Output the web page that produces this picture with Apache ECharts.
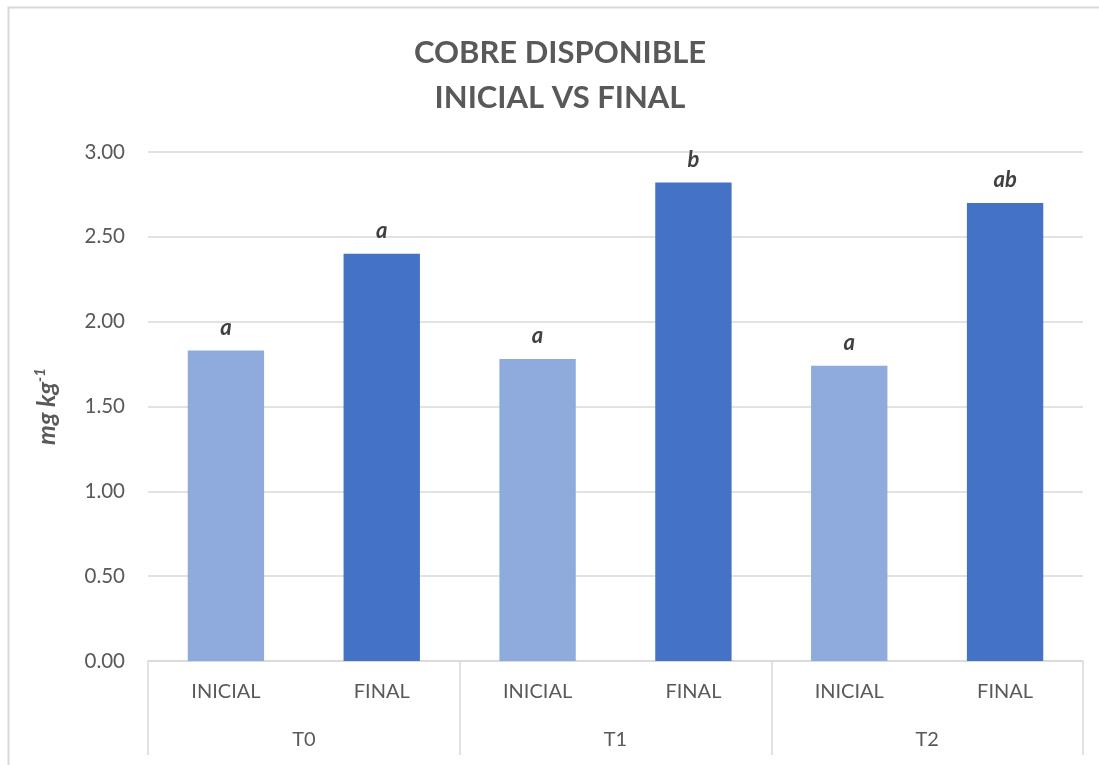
<!DOCTYPE html>
<html>
<head>
<meta charset="utf-8">
<script src="https://cdn.jsdelivr.net/npm/echarts@6/dist/echarts.min.js"></script>
<style>
  html, body { margin: 0; padding: 0; background: #fff; }
  #chart { width: 1099px; height: 765px; }
</style>
</head>
<body>
<div id="chart"></div>
<script>
// data
const phases = ['INICIAL', 'FINAL', 'INICIAL', 'FINAL', 'INICIAL', 'FINAL'];
const treatments = ['T0', 'T1', 'T2'];
const values = [1.83, 2.40, 1.78, 2.82, 1.74, 2.70];
const letters = ['a', 'a', 'a', 'b', 'a', 'ab'];

const colInicial = '#8FAADC';
const colFinal = '#4472C4';
const textCol = '#595959';
const lineCol = '#D9D9D9';
const font = 'Lato, "Open Sans", sans-serif';

const chart = echarts.init(document.getElementById('chart'));

const barData = values.map((v, i) => ({
    value: v,
    itemStyle: { color: phases[i] === 'INICIAL' ? colInicial : colFinal }
}));

chart.setOption({
    animation: false,
    backgroundColor: '#fff',
    title: {
        text: 'COBRE DISPONIBLE\nINICIAL VS FINAL',
        // centred on the full chart area, which runs past the right edge
        left: 555,
        textAlign: 'center',
        top: 25,
        textStyle: {
            fontFamily: font,
            fontSize: 31,
            fontWeight: 'bold',
            color: textCol,
            lineHeight: 45
        }
    },
    graphic: [{
        // chart area border (only left/top visible in the crop)
        type: 'rect',
        shape: { x: 8.5, y: 7.5, width: 1300, height: 1000 },
        style: { fill: null, stroke: lineCol, lineWidth: 2 },
        silent: true
    }],
    grid: { left: 148, right: 16, top: 152, bottom: 104 },
    xAxis: [{
        type: 'category',
        data: phases,
        position: 'bottom',
        axisLine: { show: true, lineStyle: { color: lineCol, width: 1.5 } },
        axisTick: { show: false },
        axisLabel: { color: textCol, fontFamily: font, fontSize: 20, margin: 21 }
    }, {
        type: 'category',
        data: treatments,
        position: 'bottom',
        axisLine: { show: false },
        axisTick: { show: true, length: 94, lineStyle: { color: lineCol, width: 1.5 } },
        axisLabel: { color: textCol, fontFamily: font, fontSize: 20, margin: 69 }
    }],
    yAxis: {
        type: 'value',
        min: 0,
        max: 3,
        interval: 0.5,
        name: '{n|mg kg}{s|-1}',
        nameLocation: 'middle',
        nameGap: 88,
        nameRotate: 90,
        nameTextStyle: {
            rich: {
                n: { fontFamily: font, fontSize: 25, fontWeight: 'bold', fontStyle: 'italic', color: textCol },
                s: { fontFamily: font, fontSize: 15, fontWeight: 'bold', fontStyle: 'italic', color: textCol, verticalAlign: 'top', padding: [0, 0, 12, 0] }
            }
        },
        axisLine: { show: false },
        axisTick: { show: false },
        axisLabel: {
            color: textCol,
            fontFamily: font,
            fontSize: 20.5,
            margin: 23,
            formatter: v => v.toFixed(2)
        },
        splitLine: { lineStyle: { color: lineCol, width: 1.5 } }
    },
    series: [{
        type: 'bar',
        xAxisIndex: 0,
        data: barData,
        barWidth: '49%',
        label: {
            show: true,
            position: 'top',
            distance: 12,
            formatter: p => letters[p.dataIndex],
            fontFamily: font,
            fontSize: 22,
            fontWeight: 'bold',
            fontStyle: 'italic',
            color: '#404040'
        }
    }]
});
</script>
</body>
</html>
